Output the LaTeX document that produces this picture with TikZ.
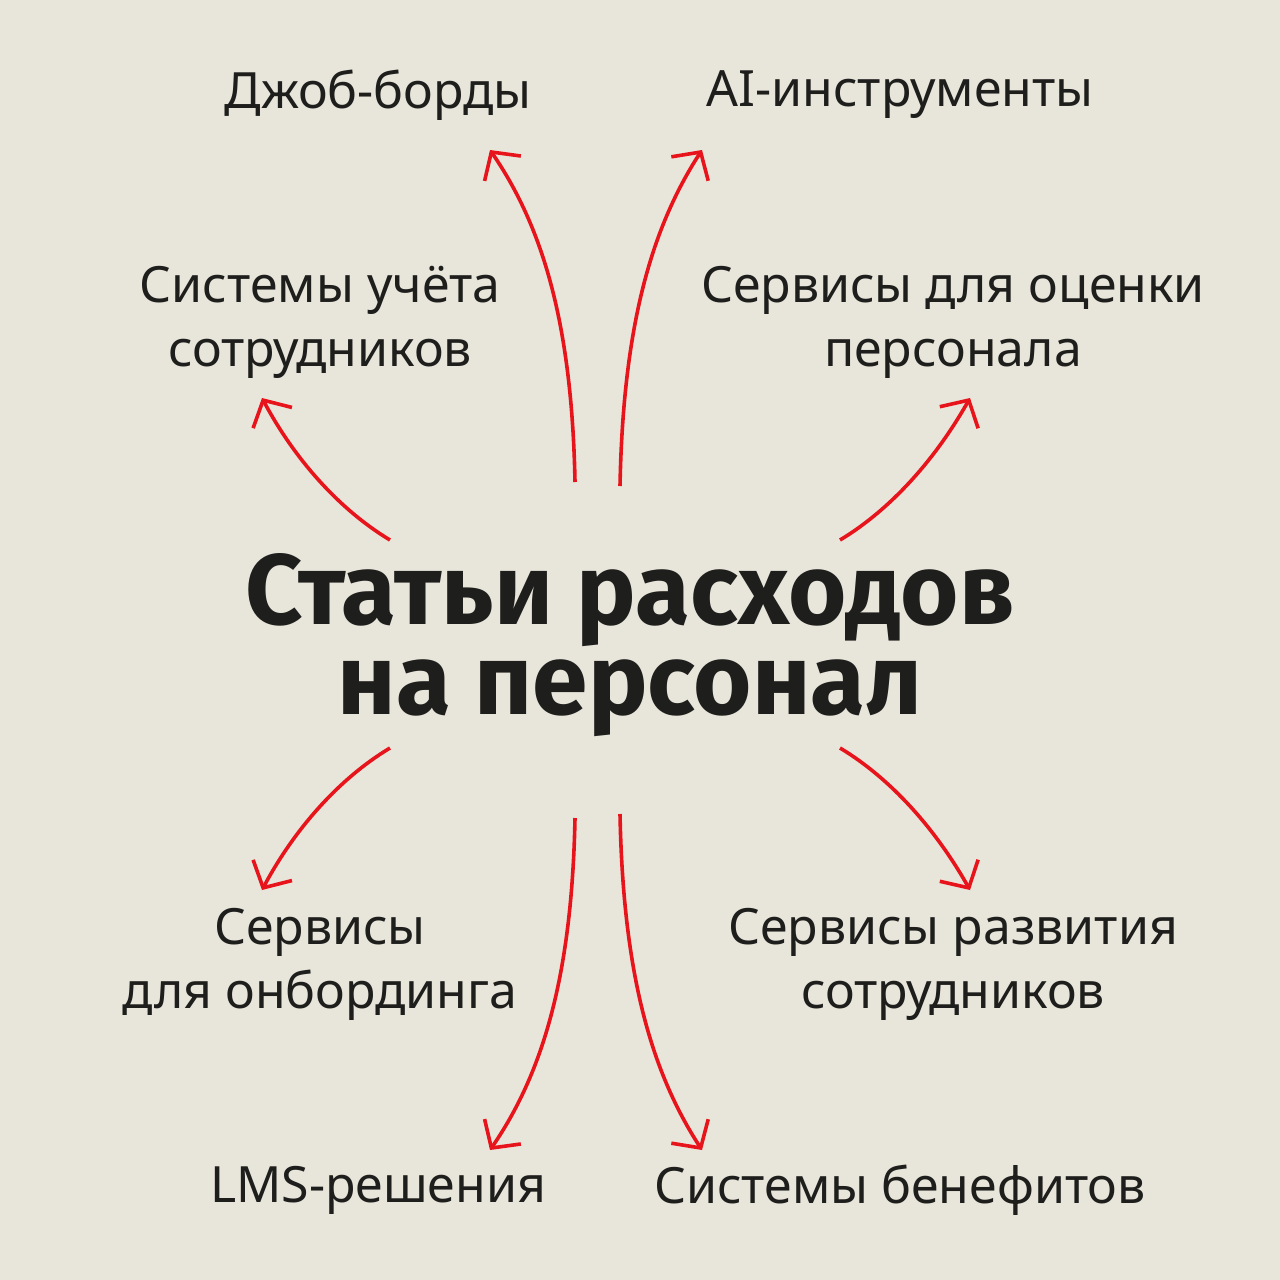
\documentclass[tikz,border=0pt]{standalone}
\usepackage{fontspec}
\setmainfont{Noto Sans}
\newfontfamily\headfont{Fira Sans}
\usetikzlibrary{arrows.meta}
\definecolor{paper}{HTML}{E8E5DA}
\definecolor{arrowred}{HTML}{E8141B}
\definecolor{ink}{HTML}{1E1E1C}
\tikzset{
  item/.style={text=ink, align=center, font=\fontsize{25}{32}\selectfont},
  title/.style={text=ink, align=center, font=\headfont\bfseries\fontsize{50}{45}\selectfont},
  link/.style={draw=arrowred, line width=1.8pt, -{Straight Barb[length=10pt,width=22pt,line width=1.8pt]}}
}
\begin{document}
\begin{tikzpicture}[x=0.5pt,y=-0.5pt]
\fill[paper] (0,0) rectangle (1280,1280);
\useasboundingbox (0,0) rectangle (1280,1280);
% labels
\node[item] (jobs) at (378,95) {Джоб-борды};
\node[item] (ai) at (900,95) {AI-инструменты};
\node[item] (accounting) at (320,322) {Системы учёта\\сотрудников};
\node[item] (assessment) at (953,322) {Сервисы для оценки\\персонала};
\node[title] (costs) at (630,645) {Статьи расходов\\на персонал};
\node[item] (onboarding) at (320,964) {Сервисы\\для онбординга};
\node[item] (growth) at (953,964) {Сервисы развития\\сотрудников};
\node[item] (lms) at (378,1190) {LMS-решения};
\node[item] (benefits) at (900,1190) {Системы бенефитов};
% arrow ends
\coordinate (s1) at (575,482); \coordinate (e1) at (490,150);
\coordinate (s2) at (620,486); \coordinate (e2) at (702,150);
\coordinate (s3) at (390,540); \coordinate (e3) at (262,398);
\coordinate (s4) at (840,540); \coordinate (e4) at (970,398);
\coordinate (s5) at (390,748); \coordinate (e5) at (262,890);
\coordinate (s6) at (840,748); \coordinate (e6) at (970,890);
\coordinate (s7) at (575,818); \coordinate (e7) at (490,1150);
\coordinate (s8) at (620,814); \coordinate (e8) at (702,1150);
\draw[link] (s1) .. controls (572,330) and (545,230) .. (e1);
\draw[link] (s2) .. controls (623,330) and (650,230) .. (e2);
\draw[link] (s3) .. controls (340,510) and (295,460) .. (e3);
\draw[link] (s4) .. controls (890,510) and (935,460) .. (e4);
\draw[link] (s5) .. controls (340,778) and (295,828) .. (e5);
\draw[link] (s6) .. controls (890,778) and (935,828) .. (e6);
\draw[link] (s7) .. controls (572,970) and (545,1070) .. (e7);
\draw[link] (s8) .. controls (623,970) and (650,1070) .. (e8);
\end{tikzpicture}
\end{document}
